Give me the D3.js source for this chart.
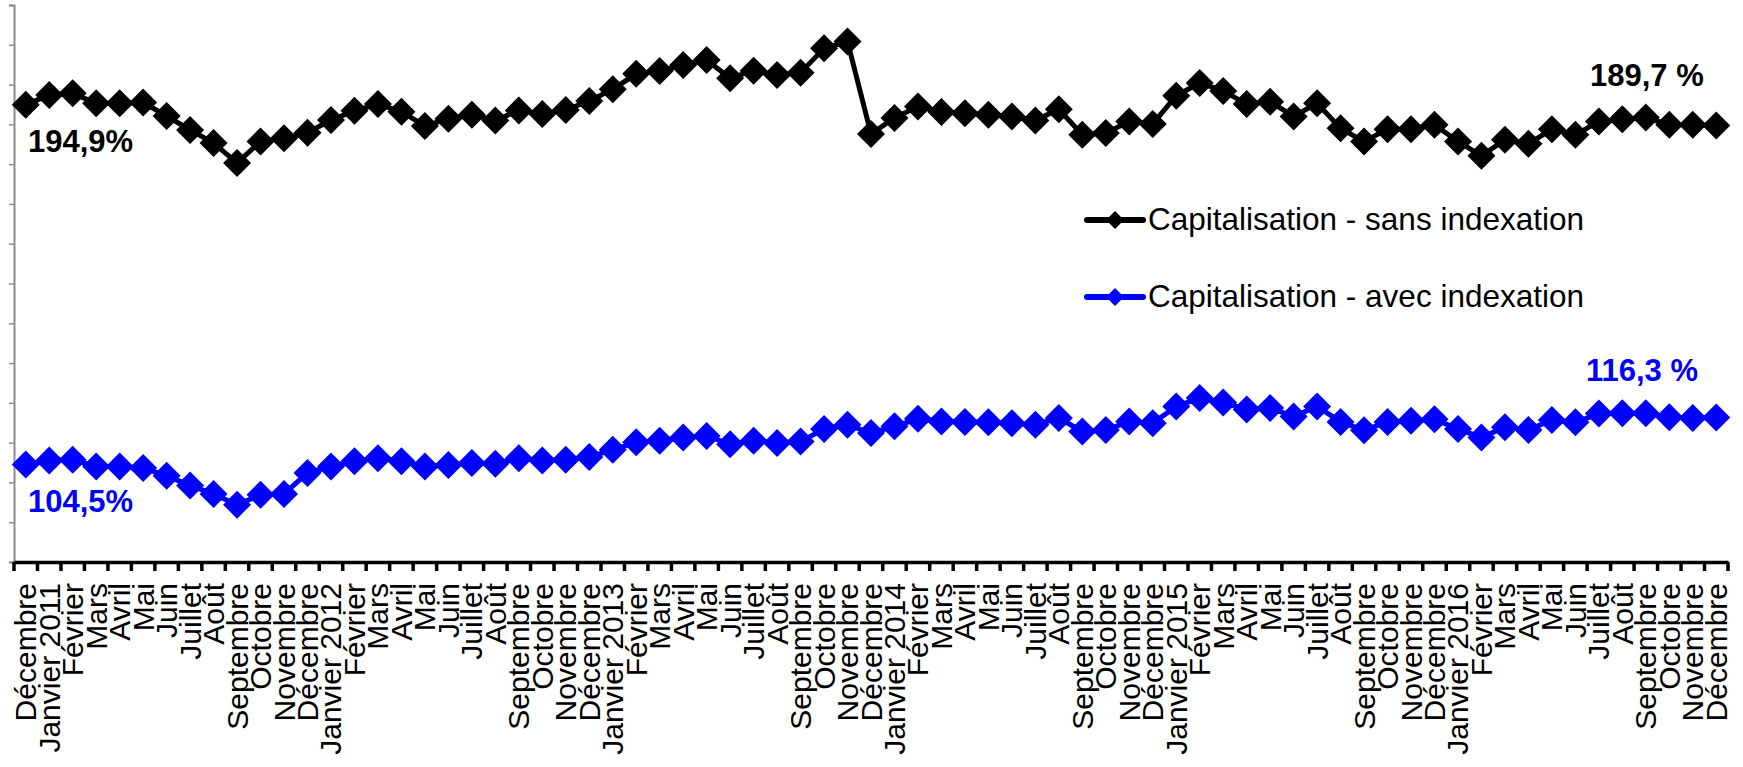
<!DOCTYPE html>
<html lang="fr">
<head>
    <meta charset="UTF-8">
    <title>Capitalisation avec et sans indexation</title>
    <script src="https://d3js.org/d3.v7.min.js"></script>
    <style>
        body {
            margin: 0;
            background: #fff;
            font-family: "Liberation Sans", Arial, sans-serif;
        }
    </style>
</head>
<body>
    <div id="chart"></div>

    <script>
        // Mois de décembre 2010 à décembre 2016
        const labels = [
            "Décembre",
            "Janvier 2011", "Février", "Mars", "Avril", "Mai", "Juin", "Juillet", "Août", "Septembre", "Octobre", "Novembre", "Décembre",
            "Janvier 2012", "Février", "Mars", "Avril", "Mai", "Juin", "Juillet", "Août", "Septembre", "Octobre", "Novembre", "Décembre",
            "Janvier 2013", "Février", "Mars", "Avril", "Mai", "Juin", "Juillet", "Août", "Septembre", "Octobre", "Novembre", "Décembre",
            "Janvier 2014", "Février", "Mars", "Avril", "Mai", "Juin", "Juillet", "Août", "Septembre", "Octobre", "Novembre", "Décembre",
            "Janvier 2015", "Février", "Mars", "Avril", "Mai", "Juin", "Juillet", "Août", "Septembre", "Octobre", "Novembre", "Décembre",
            "Janvier 2016", "Février", "Mars", "Avril", "Mai", "Juin", "Juillet", "Août", "Septembre", "Octobre", "Novembre", "Décembre"
        ];

        // Capitalisation - sans indexation (%)
        const sansIndexation = [
            194.9,
            197.4, 197.8, 195.3, 195.3, 195.5, 192.1, 188.6, 185.3, 180.3, 185.7, 186.5, 187.9,
            191.1, 193.4, 195.1, 193.2, 189.6, 191.4, 192.4, 191.0, 193.5, 192.6, 193.6, 195.9,
            198.8, 202.7, 203.4, 204.9, 206.2, 201.6, 203.5, 202.4, 203.0, 209.1, 210.8, 187.6,
            191.6, 194.5, 193.1, 192.8, 192.4, 192.0, 191.0, 193.8, 187.4, 187.8, 190.7, 190.1,
            197.2, 200.4, 198.4, 195.1, 195.7, 192.0, 195.3, 189.0, 185.7, 188.8, 188.8, 189.9,
            185.7, 182.1, 186.1, 185.1, 188.8, 187.4, 190.7, 191.3, 191.7, 189.9, 189.9, 189.7
        ];

        // Capitalisation - avec indexation (%)
        const avecIndexation = [
            104.5,
            105.5, 105.7, 104.0, 104.0, 103.6, 101.7, 99.2, 97.1, 94.4, 96.9, 97.1, 102.4,
            104.0, 105.3, 106.1, 105.3, 104.0, 104.4, 104.9, 104.7, 106.1, 105.5, 105.7, 106.4,
            108.2, 110.1, 110.5, 111.3, 111.7, 109.6, 110.5, 109.9, 110.3, 113.4, 114.5, 112.4,
            114.1, 116.0, 115.3, 115.2, 115.1, 114.9, 114.5, 116.2, 112.8, 113.2, 115.3, 114.9,
            119.1, 121.2, 120.1, 118.3, 118.7, 116.6, 119.1, 115.2, 113.1, 115.2, 115.5, 115.9,
            113.4, 111.3, 113.9, 113.2, 115.7, 115.1, 117.3, 117.4, 117.4, 116.4, 116.2, 116.3
        ];

        const yTicks = d3.range(80, 221, 10);

        const series = [
            { name: "Capitalisation - sans indexation", color: "#000000", values: sansIndexation },
            { name: "Capitalisation - avec indexation", color: "#0000ff", values: avecIndexation }
        ];

        const width = 1743;
        const height = 767;

        const svg = d3.select("#chart")
            .append("svg")
            .attr("width", width)
            .attr("height", height);

        const x = d3.scaleBand()
            .domain(d3.range(labels.length))
            .range([14, 1728]);

        const y = d3.scaleLinear()
            .domain([80, 220])
            .range([562, 5]);

        // Axe vertical gris, sans étiquettes
        const yAxis = svg.append("g")
            .attr("transform", "translate(14,0)")
            .call(d3.axisLeft(y).tickValues(yTicks).tickSize(5).tickFormat(""));
        yAxis.select(".domain").attr("stroke", "#8c8c8c").attr("stroke-width", 2);
        yAxis.selectAll(".tick line").attr("stroke", "#8c8c8c").attr("stroke-width", 1.5);

        // Axe horizontal noir avec les mois
        const xAxis = svg.append("g")
            .attr("transform", `translate(0,${y(80)})`)
            .call(d3.axisBottom(x).tickSize(0).tickSizeOuter(0).tickFormat(i => labels[i]));
        xAxis.select(".domain").attr("stroke", "#000").attr("stroke-width", 3.5);
        xAxis.selectAll(".tick text")
            .attr("font-family", "'Liberation Sans', Arial, sans-serif")
            .attr("font-size", 30)
            .attr("fill", "#000")
            .attr("text-anchor", "end")
            .attr("transform", "rotate(-90)")
            .attr("x", -21)
            .attr("y", 0)
            .attr("dy", "0.35em");

        // Graduations entre les mois
        svg.append("g")
            .selectAll("line")
            .data(d3.range(labels.length + 1))
            .enter()
            .append("line")
            .attr("x1", i => i < labels.length ? x(i) : x(labels.length - 1) + x.bandwidth())
            .attr("x2", i => i < labels.length ? x(i) : x(labels.length - 1) + x.bandwidth())
            .attr("y1", y(80))
            .attr("y2", y(80) + 9)
            .attr("stroke", "#000")
            .attr("stroke-width", 3.5);

        const cx = i => x(i) + x.bandwidth() / 2;
        const diamond = h => `M0,${-h}L${h},0L0,${h}L${-h},0Z`;

        const line = d3.line()
            .x((d, i) => cx(i))
            .y(d => y(d));

        series.forEach(s => {
            svg.append("path")
                .datum(s.values)
                .attr("fill", "none")
                .attr("stroke", s.color)
                .attr("stroke-width", 5)
                .attr("stroke-linejoin", "round")
                .attr("d", line);

            svg.append("g")
                .selectAll("path")
                .data(s.values)
                .enter()
                .append("path")
                .attr("transform", (d, i) => `translate(${cx(i)},${y(d)})`)
                .attr("d", diamond(14))
                .attr("fill", s.color);
        });

        // Valeurs de début et de fin
        const valueLabels = [
            { text: "194,9%", x: 28, y: 152, color: "#000000" },
            { text: "104,5%", x: 28, y: 512, color: "#0000ff" },
            { text: "189,7 %", x: 1590, y: 86, color: "#000000" },
            { text: "116,3 %", x: 1586, y: 381, color: "#0000ff" }
        ];
        svg.append("g")
            .selectAll("text")
            .data(valueLabels)
            .enter()
            .append("text")
            .attr("x", d => d.x)
            .attr("y", d => d.y)
            .attr("fill", d => d.color)
            .attr("font-size", 31)
            .attr("font-weight", "bold")
            .text(d => d.text);

        // Légende
        const legend = svg.append("g")
            .selectAll("g")
            .data(series)
            .enter()
            .append("g")
            .attr("transform", (d, i) => `translate(1087,${220 + i * 77})`);

        legend.append("line")
            .attr("x1", 0)
            .attr("x2", 56)
            .attr("stroke", d => d.color)
            .attr("stroke-width", 6)
            .attr("stroke-linecap", "round");

        legend.append("path")
            .attr("transform", "translate(28,0)")
            .attr("d", diamond(9))
            .attr("fill", d => d.color);

        legend.append("text")
            .attr("x", 61)
            .attr("y", 10)
            .attr("font-size", 31.5)
            .attr("fill", "#000")
            .text(d => d.name);
    </script>
</body>
</html>
